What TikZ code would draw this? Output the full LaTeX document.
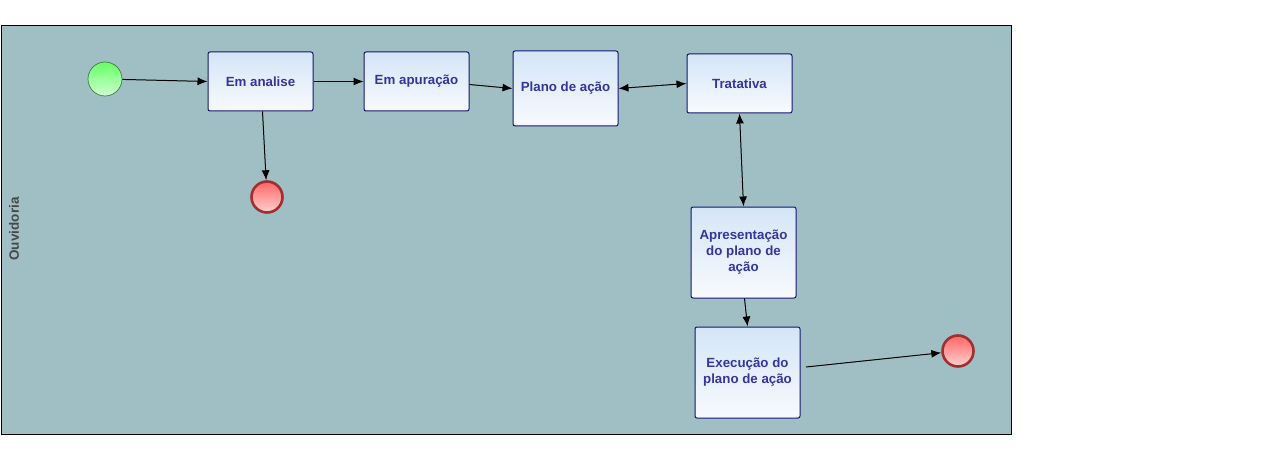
\documentclass[tikz,border=0pt]{standalone}
\usepackage{fontspec}
\setmainfont{Liberation Sans}
\usetikzlibrary{arrows.meta,calc}
\definecolor{poolc}{HTML}{A0BFC4}
\definecolor{boxtop}{HTML}{D4E5F7}
\definecolor{boxbot}{HTML}{F8FAFE}
\definecolor{boxline}{HTML}{141470}
\definecolor{txtc}{HTML}{3535A0}
\definecolor{gtop}{HTML}{66FF66}
\definecolor{gbot}{HTML}{D0FFD0}
\definecolor{gline}{HTML}{3C7C3C}
\definecolor{rtop}{HTML}{FF6666}
\definecolor{rbot}{HTML}{FFD0D0}
\definecolor{rline}{HTML}{A03030}
\tikzset{
  x=1pt,y=-1pt,
  task/.style={draw=boxline,line width=1pt,rounded corners=2pt,top color=boxtop,bottom color=boxbot,
    text=txtc,font=\fontsize{13.3}{16}\selectfont\bfseries,align=center,inner sep=2pt,minimum width=105pt},
  startev/.style={circle,draw=gline,line width=0.7pt,top color=gtop,bottom color=gbot,minimum size=34pt,inner sep=0pt},
  endev/.style={circle,draw=rline,line width=2.6pt,top color=rtop,bottom color=rbot,minimum size=31pt,inner sep=0pt},
  flow/.style={line width=1pt,-{Latex[length=10pt,width=8pt]}},
  bflow/.style={line width=1pt,{Latex[length=10pt,width=8pt]}-{Latex[length=10pt,width=8pt]}},
}
\begin{document}
\begin{tikzpicture}
\useasboundingbox (0,0) rectangle (1281,449);
\fill[white] (0,0) rectangle (1281,449);
\node[draw=black,line width=1pt,fill=poolc,minimum width=1010pt,minimum height=408pt,inner sep=0pt,anchor=north west] (pool) at (0.5,25.5) {};
\node[rotate=90,text=black!72,font=\fontsize{13.5}{15}\selectfont\bfseries] (lane) at (14,229) {Ouvidoria};
\node[startev] (st) at (105,79) {};
\node[task,minimum height=59pt] (an) at (260.5,81.5) {Em analise};
\node[task,minimum height=59pt] (ap) at (416.5,81.5) {Em apuração};
\node[task,minimum height=75pt] (pl) at (565.5,88.5) {Plano de ação};
\node[task,minimum height=59pt] (tr) at (739.5,83.5) {Tratativa};
\node[endev] (e1) at (267,197) {};
\node[task,minimum height=91pt] (apr) at (743.5,252.5) {Apresentação\\do plano de\\ação};
\node[task,minimum height=91pt] (ex) at (747.5,372.5) {Execução do\\plano de ação};
\node[endev] (e2) at (958,351) {};
\coordinate (exo) at (806,367);
\draw[flow] (st) -- (an.west);
\draw[flow] ($(an.south)+(2,0)$) -- (e1);
\draw[flow] (an.east) -- (ap.east -| ap.west);
\draw[flow] ($(ap.east)+(0,3)$) -- (pl.west);
\draw[bflow] (pl.east) -- (tr.west);
\draw[bflow] (tr.south) -- (apr.north);
\draw[flow] ($(apr.south)+(1,0)$) -- (ex.north);
\draw[flow] (exo) -- (e2);
\end{tikzpicture}
\end{document}
